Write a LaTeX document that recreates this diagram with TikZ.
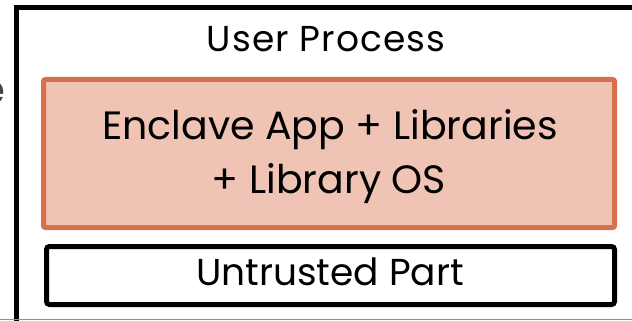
\documentclass[tikz,border=0pt]{standalone}
\usepackage{fontspec}
\setmainfont{Poppins}
\definecolor{encline}{RGB}{217,112,77}
\definecolor{encfill}{RGB}{240,196,180}
\definecolor{sidegray}{RGB}{70,70,70}
\begin{document}
\begin{tikzpicture}[x=1pt,y=-1pt,
  frame/.style={draw=black,line width=5pt},
  enclavebox/.style={draw=encline,fill=encfill,line width=5pt,rounded corners=2pt},
  plainbox/.style={draw=black,line width=5pt,rounded corners=3pt},
  lbl/.style={font=\fontsize{39.5}{44}\selectfont,anchor=base,inner sep=0pt}]
\useasboundingbox (0,0) rectangle (632,321);
% outer process frame, running off the right and bottom edges
\draw[frame] (16.5,330) -- (16.5,7.5) -- (650,7.5);
\draw[sidegray!60,line width=0.8pt] (0,319.5) -- (632,319.5);
% trailing letter of a label to the left
\node[lbl,font=\fontsize{42}{46}\selectfont,anchor=base east,text=sidegray] (sidelbl) at (6,104) {e};
% user process title
\node[lbl,font=\fontsize{36}{40}\addfontfeature{LetterSpace=3}] (title) at (326,51.5) {User Process};
% enclave region
\draw[enclavebox] (43.5,79.5) rectangle (614.5,227.5);
\node[lbl] (enc1) at (330,139) {Enclave App + Libraries};
\node[lbl] (enc2) at (329,193) {+ Library OS};
% untrusted region
\draw[plainbox] (46.5,246.5) rectangle (614.5,304.5);
\node[lbl,font=\fontsize{37.5}{42}\selectfont] (untr) at (330,285) {Untrusted Part};
\end{tikzpicture}
\end{document}
